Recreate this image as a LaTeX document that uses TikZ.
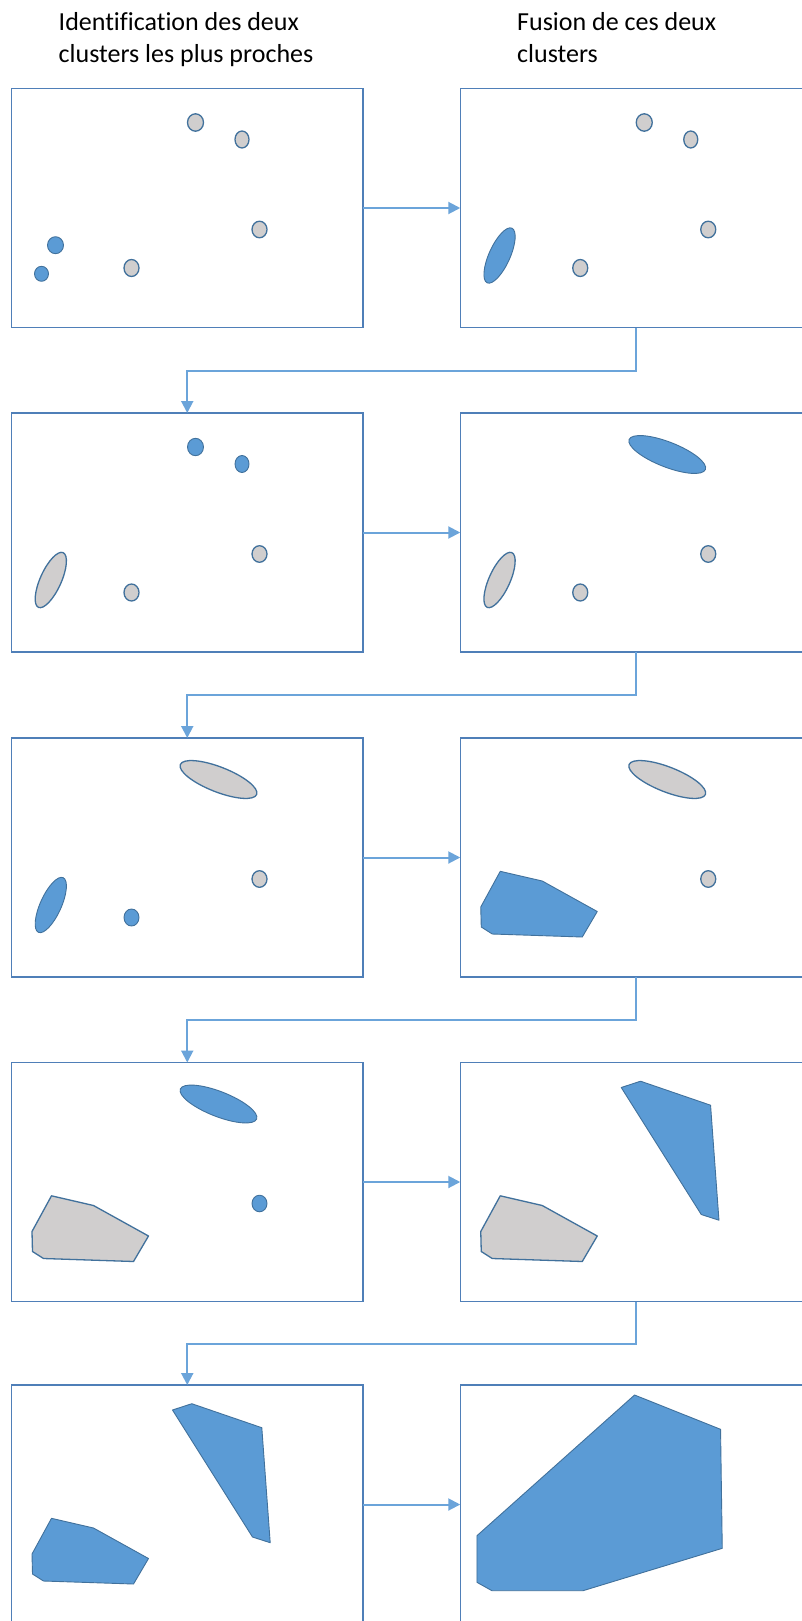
\documentclass[tikz,border=0pt]{standalone}
\usepackage{fontspec}
\setmainfont{Carlito}[Ligatures=NoCommon]
\usetikzlibrary{arrows.meta}
\definecolor{boxc}{HTML}{4F7FB8}
\definecolor{bluef}{HTML}{5B9BD5}
\definecolor{blueo}{HTML}{41719C}
\definecolor{greyf}{HTML}{D0CECE}
\definecolor{connc}{HTML}{6BA4DA}
% shapes, coordinates relative to the top-left corner of a box
\newcommand\shA[1]{\draw[#1] (184,34) ellipse [x radius=8, y radius=8.7];}
\newcommand\shB[1]{\draw[#1] (230.5,51) ellipse [x radius=7, y radius=8.5];}
\newcommand\shC[1]{\draw[#1] (248,141) ellipse [x radius=7.5, y radius=8.3];}
\newcommand\shD[1]{\draw[#1] (120,179.5) ellipse [x radius=7.5, y radius=8.5];}
\newcommand\shE[1]{\draw[#1] (44,156.7) ellipse [x radius=8, y radius=8.5];}
\newcommand\shF[1]{\draw[#1] (30,185.3) ellipse [x radius=7, y radius=7.5];}
\newcommand\shM[1]{\draw[#1, rotate around={65.7:(39.3,167)}] (39.3,167) ellipse [x radius=30, y radius=10.5];}
\newcommand\shG[1]{\draw[#1, rotate around={-21.4:(207,41.5)}] (207,41.5) ellipse [x radius=41, y radius=12.5];}
\newcommand\shPa[1]{\draw[#1] (40,133.3) -- (82,143) -- (137,173.5) -- (122,199) -- (32,196) -- (21,189) -- (20.5,169) -- cycle;}
\newcommand\shPb[1]{\draw[#1] (161,25) -- (180.3,18.7) -- (250.3,42.7) -- (258.7,157.7) -- (241,152) -- cycle;}
\newcommand\shPc[1]{\draw[#1] (174.3,10) -- (260.3,44.3) -- (262,163.3) -- (122.7,205.7) -- (31.7,205.7) -- (16.7,197.3) -- (16.7,150.7) -- cycle;}
\begin{document}
\begin{tikzpicture}[x=1pt,y=-1pt,
  frame/.style={draw=boxc, line width=1.5pt, minimum width=351.5pt, minimum height=239pt, inner sep=0pt, outer sep=0pt},
  conn/.style={draw=connc, line width=2pt, -{Triangle[length=12pt,width=12pt]}},
  bl/.style={fill=bluef, draw=blueo, line width=0.9pt, line join=round},
  gr/.style={fill=greyf, draw=blueo, line width=1.3pt, line join=round},
  title/.style={font=\fontsize{26pt}{31.5pt}\selectfont, align=left, anchor=base west, inner sep=0pt}]
\useasboundingbox (0,0) rectangle (802,1621);
\clip (0,0) rectangle (802,1621);
\fill[white] (0,0) rectangle (802,1621);

\node[title] (t1) at (58.5,62.5) {Identification des deux\\clusters les plus proches};
\node[title] (t2) at (517,62.5) {Fusion de ces deux\\clusters};

% boxes
\node[frame] (L1) at (187.25,208) {};
\node[frame] (R1) at (636,208) {};
\node[frame] (L2) at (187.25,532.5) {};
\node[frame] (R2) at (636,532.5) {};
\node[frame] (L3) at (187.25,857.5) {};
\node[frame] (R3) at (636,857.5) {};
\node[frame] (L4) at (187.25,1182) {};
\node[frame] (R4) at (636,1182) {};
\node[frame] (L5) at (187.25,1504.5) {};
\node[frame] (R5) at (636,1504.5) {};

% connectors
\draw[conn] (L1.east) -- (R1.west);
\draw[conn] (L2.east) -- (R2.west);
\draw[conn] (L3.east) -- (R3.west);
\draw[conn] (L4.east) -- (R4.west);
\draw[conn] (L5.east) -- (R5.west);
\draw[conn] (R1.south) -- ++(0,43) -| (L2.north);
\draw[conn] (R2.south) -- ++(0,43) -| (L3.north);
\draw[conn] (R3.south) -- ++(0,43) -| (L4.north);
\draw[conn] (R4.south) -- ++(0,42) -| (L5.north);

% row 1
\begin{scope}[shift={(11.5,88.5)}]
  \shA{gr}\shB{gr}\shC{gr}\shD{gr}\shE{bl}\shF{bl}
\end{scope}
\begin{scope}[shift={(460.25,88.5)}]
  \shA{gr}\shB{gr}\shC{gr}\shD{gr}\shM{bl}
\end{scope}
% row 2
\begin{scope}[shift={(11.5,413)}]
  \shA{bl}\shB{bl}\shC{gr}\shD{gr}\shM{gr}
\end{scope}
\begin{scope}[shift={(460.25,413)}]
  \shG{bl}\shC{gr}\shD{gr}\shM{gr}
\end{scope}
% row 3
\begin{scope}[shift={(11.5,738)}]
  \shG{gr}\shC{gr}\shM{bl}\shD{bl}
\end{scope}
\begin{scope}[shift={(460.25,738)}]
  \shG{gr}\shC{gr}\shPa{bl}
\end{scope}
% row 4
\begin{scope}[shift={(11.5,1062.5)}]
  \shG{bl}\shC{bl}\shPa{gr}
\end{scope}
\begin{scope}[shift={(460.25,1062.5)}]
  \shPb{bl}\shPa{gr}
\end{scope}
% row 5
\begin{scope}[shift={(11.5,1385)}]
  \shPb{bl}\shPa{bl}
\end{scope}
\begin{scope}[shift={(460.25,1385)}]
  \shPc{bl}
\end{scope}
\end{tikzpicture}
\end{document}
